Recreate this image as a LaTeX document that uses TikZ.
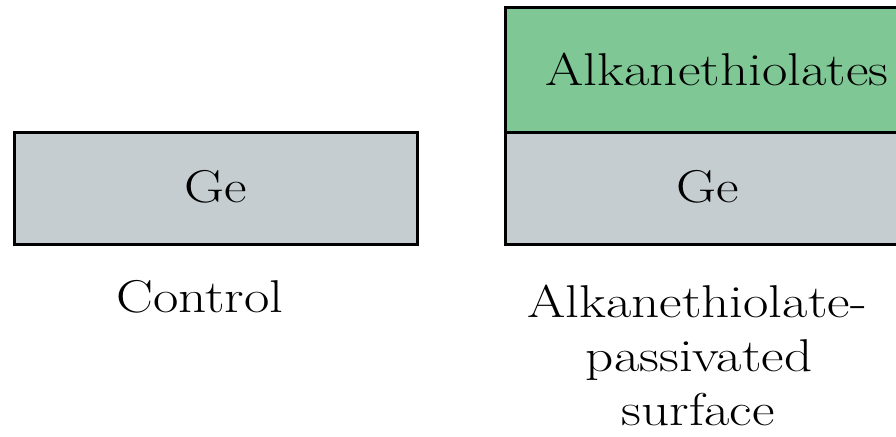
\documentclass[tikz,border=0pt]{standalone}
\usepackage{fontspec}
\usepackage{graphicx}
\definecolor{gegray}{HTML}{C5CDD0}
\definecolor{thiolgreen}{HTML}{7FC794}
\newcommand{\bigtxt}[1]{\scalebox{1.2}[1]{\fontsize{46}{56}\selectfont #1}}
\tikzset{
  layer/.style={draw=black, line width=3pt},
  lbl/.style={anchor=base, inner sep=0pt, font={}}
}
\begin{document}
\begin{tikzpicture}[x=1pt,y=-1pt]
\useasboundingbox (0,0) rectangle (896,436);
\clip (0,0) rectangle (896,436);
% left: control
\draw[layer, fill=gegray] (14.5,132) rectangle (417,244);
\node[lbl] (ge1) at (216,202) {\bigtxt{Ge}};
\node[lbl] (ctl) at (200,312) {\bigtxt{Control}};
% right: passivated
\draw[layer, fill=thiolgreen] (505.5,8) rectangle (905,132);
\draw[layer, fill=gegray] (505.5,132) rectangle (905,244);
\node[lbl] (ge2) at (708,202) {\bigtxt{Ge}};
\node[lbl] (thiol) at (717,85) {\bigtxt{Alkanethiolates}};
\node[lbl] (cap1) at (697,317) {\bigtxt{Alkanethiolate-}};
\node[lbl] (cap2) at (699,371) {\bigtxt{passivated}};
\node[lbl] (cap3) at (698,425) {\bigtxt{surface}};
\end{tikzpicture}
\end{document}
